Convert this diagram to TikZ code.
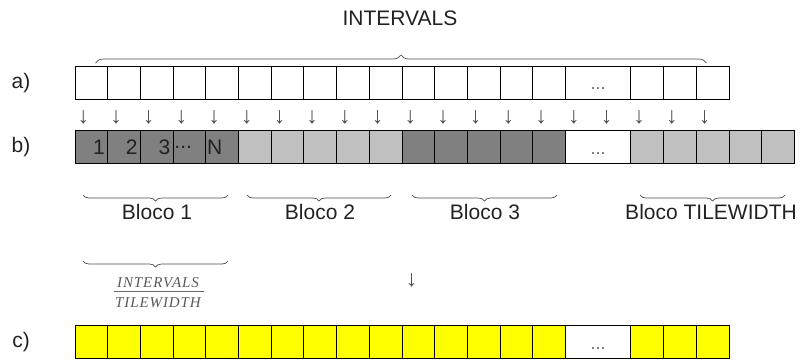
\documentclass[tikz,border=0pt]{standalone}
\usepackage{fontspec}
\setmainfont{Liberation Sans}
\newfontfamily\serifit[LetterSpace=6]{Liberation Serif}
\usetikzlibrary{positioning,calc,decorations.pathreplacing}
\definecolor{tiledark}{HTML}{808080}
\definecolor{tilelight}{HTML}{C0C0C0}
\definecolor{tilegold}{HTML}{FFFF00}
\definecolor{ink}{HTML}{222222}
\tikzstyle{cell}=[draw,rectangle,line width=1pt,minimum width=32.7pt,minimum height=33pt,inner sep=0pt,outer sep=0pt]
\tikzstyle{blank}=[cell,fill=white]
\tikzstyle{dark}=[cell,fill=tiledark]
\tikzstyle{light}=[cell,fill=tilelight]
\tikzstyle{gold}=[cell,fill=tilegold]
\tikzstyle{gap}=[cell,fill=white,minimum width=65.4pt,font=\fontsize{18}{18}\selectfont,text=black!60,text height=14pt,text depth=0pt]
\tikzstyle{numr}=[text width=27pt,align=right]
\tikzstyle{numl}=[text width=30pt,align=left]
\tikzstyle{tick}=[font=\fontsize{23}{23}\selectfont,text=black!70,inner sep=0pt]
\tikzstyle{brace}=[decorate,draw=black!70,line width=0.7pt]
\tikzstyle{ratio}=[text=black!65,font=\serifit\itshape\fontsize{15}{18}\selectfont,anchor=base]

\begin{document}
\begin{tikzpicture}[x=1pt,y=-1pt,font=\fontsize{21}{24}\selectfont,text=ink]
\useasboundingbox (0,0) rectangle (808,360);

% row a
\node [blank] (a1) at (91.35,82.5) {};
\foreach \i [count=\j from 2] in {1,...,14}
  \node [blank,right=0pt of a\i] (a\j) {};
\node [gap,right=0pt of a15] (adots) {...};
\node [blank,right=0pt of adots] (a16) {};
\foreach \i [count=\j from 17] in {16,17}
  \node [blank,right=0pt of a\i] (a\j) {};

% row b
\node [dark,numr] (b1) at (91.35,147) {1};
\node [dark,numr,right=0pt of b1] (b2) {2};
\node [dark,numr,right=0pt of b2] (b3) {3};
\node [dark,numl,right=0pt of b3] (b4) {...};
\node [dark,numl,right=0pt of b4] (b5) {N};
\foreach \i [count=\j from 6] in {5,...,9}
  \node [light,right=0pt of b\i] (b\j) {};
\foreach \i [count=\j from 11] in {10,...,14}
  \node [dark,right=0pt of b\i] (b\j) {};
\node [gap,right=0pt of b15] (bdots) {...};
\node [light,right=0pt of bdots] (b16) {};
\foreach \i [count=\j from 17] in {16,...,19}
  \node [light,right=0pt of b\i] (b\j) {};

% row c
\node [gold] (c1) at (91.35,342) {};
\foreach \i [count=\j from 2] in {1,...,14}
  \node [gold,right=0pt of c\i] (c\j) {};
\node [gap,right=0pt of c15] (cdots) {...};
\node [gold,right=0pt of cdots] (c16) {};
\foreach \i [count=\j from 17] in {16,17}
  \node [gold,right=0pt of c\i] (c\j) {};

% row names
\node (la) at (21,83) {a)};
\node (lb) at (21,147) {b)};
\node (lc) at (21,342) {c)};

% ticks between a and b
\foreach \k in {0,...,19}
  \node [tick] (t\k) at ({83.3+32.7*\k},117) {↓};
\node [tick] (tc) at (411.7,280) {↓};

% top brace
\node (intervals) at (400,18) {INTERVALS};
\coordinate (topl) at (95.5,63);
\coordinate (topr) at (706.5,63);
\draw [brace,decoration={brace,amplitude=8pt}] (topl) -- (topr);

% blocks
\coordinate (k1r) at (228,195);  \coordinate (k1l) at (83,195);
\coordinate (k2r) at (391,195);  \coordinate (k2l) at (247,195);
\coordinate (k3r) at (557,195);  \coordinate (k3l) at (412,195);
\coordinate (k4r) at (785,195);  \coordinate (k4l) at (640,195);
\foreach \k in {1,...,4}
  \draw [brace,decoration={brace,amplitude=6pt}] (k\k r) -- (k\k l);
\node (bl1) at (157,212) {Bloco 1};
\node (bl2) at (320,212) {Bloco 2};
\node (bl3) at (485,212) {Bloco 3};
\node (bl4) at (711,212) {Bloco TILEWIDTH};

% block size
\coordinate (sr) at (228,261);  \coordinate (sl) at (83,261);
\draw [brace,decoration={brace,amplitude=6pt}] (sr) -- (sl);
\node [ratio] (num) at (158,287) {INTERVALS};
\node [ratio] (den) at (158,307) {TILEWIDTH};
\node [fill=black!60,minimum width=90pt,minimum height=0.7pt,inner sep=0pt] (bar) at (159,291) {};
\end{tikzpicture}
\end{document}
